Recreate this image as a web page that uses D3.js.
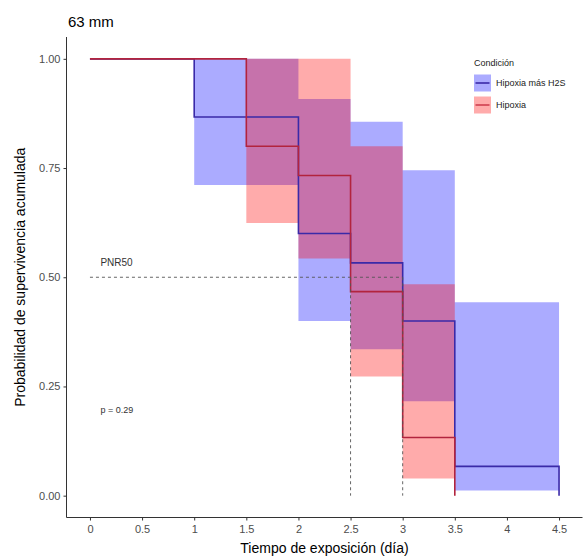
<!DOCTYPE html>
<html><head><meta charset="utf-8">
<script src="https://cdn.jsdelivr.net/npm/d3@7"></script>
<style>body{margin:0;background:#fff}svg{display:block}text{font-family:"Liberation Sans",Arial,sans-serif}</style>
</head><body><svg id="c" width="585" height="558"></svg>
<script>
// Survival step data
const h2sTime = [0, 1, 2, 2.5, 3, 3.5, 4.5];
const h2sSurv = [1, 0.867, 0.6, 0.533, 0.4, 0.067, 0];
const hipTime = [0, 1.5, 2, 2.5, 3, 3.5];
const hipSurv = [1, 0.8, 0.733, 0.467, 0.133, 0];
// Confidence intervals (start of each interval; last entry is end)
const h2sCiTime = [1, 2, 2.5, 3, 3.5, 4.5];
const h2sUpper = [1.0, 0.908, 0.856, 0.745, 0.443];
const h2sLower = [0.711, 0.40, 0.335, 0.216, 0.012];
const hipCiTime = [1.5, 2, 2.5, 3, 3.5];
const hipUpper = [1.0, 1.0, 0.80, 0.484];
const hipLower = [0.624, 0.543, 0.273, 0.039];
const xTicks = [0, 0.5, 1, 1.5, 2, 2.5, 3, 3.5, 4, 4.5];
const yTicks = [0, 0.25, 0.5, 0.75, 1];
const medians = [2.5, 3];
const seriesNames = ["Hipoxia más H2S", "Hipoxia"];

const svg = d3.select("#c");
const x = d3.scaleLinear().domain([-0.225, 4.725]).range([66.5, 582.5]);
const y = d3.scaleLinear().domain([-0.05, 1.05]).range([517.5, 37]);

function band(times, up, lo, color) {
  const pts = times.map((t, i) => ({t, u: up[Math.min(i, up.length - 1)], l: lo[Math.min(i, lo.length - 1)]}));
  const area = d3.area().curve(d3.curveStepAfter).x(d => x(d.t)).y0(d => y(d.l)).y1(d => y(d.u));
  svg.append("path").attr("d", area(pts)).attr("fill", color).attr("fill-opacity", 0.33);
}
band(h2sCiTime, h2sUpper, h2sLower, "#0000ff");
band(hipCiTime, hipUpper, hipLower, "#ff0000");

function step(times, surv, color) {
  const line = d3.line().curve(d3.curveStepAfter).x(d => x(d[0])).y(d => y(d[1]));
  svg.append("path").attr("d", line(times.map((t, i) => [t, surv[i]])))
    .attr("fill", "none").attr("stroke", color).attr("stroke-width", 1.6);
}
step(h2sTime, h2sSurv, "#3a2aa8");
step(hipTime, hipSurv, "#b2243e");

// median lines
const medG = svg.append("g").attr("stroke", "#555").attr("stroke-width", 0.9).attr("stroke-dasharray", "3,3");
medG.append("line").attr("x1", x(0)).attr("x2", x(d3.max(medians))).attr("y1", y(0.5)).attr("y2", y(0.5));
medians.forEach(m => medG.append("line").attr("x1", x(m)).attr("x2", x(m)).attr("y1", y(0.5)).attr("y2", y(0)));

// axes
const xAxis = svg.append("g").attr("transform", "translate(0,517.5)")
  .call(d3.axisBottom(x).tickValues(xTicks).tickSize(3).tickSizeOuter(0).tickFormat(d3.format("~g")));
const yAxis = svg.append("g").attr("transform", "translate(66.5,0)")
  .call(d3.axisLeft(y).tickValues(yTicks).tickSize(3).tickSizeOuter(0).tickFormat(d3.format(".2f")));
[xAxis, yAxis].forEach(a => {
  a.select(".domain").attr("stroke", "#333");
  a.selectAll(".tick line").attr("stroke", "#333");
  a.selectAll(".tick text").attr("fill", "#4d4d4d").style("font-size", "11px").style("font-family", "Liberation Sans, Arial, sans-serif");
});
xAxis.selectAll(".tick text").attr("dy", "0.9em");
// extend domain lines to full panel
xAxis.select(".domain").attr("d", `M${x.range()[0]},0H${x.range()[1]}`);
yAxis.select(".domain").attr("d", `M0,${y.range()[0]}V${y.range()[1]}`);

svg.append("text").attr("x", (x.range()[0] + x.range()[1]) / 2).attr("y", 553).attr("text-anchor", "middle")
  .style("font-size", "14px").text("Tiempo de exposición (día)");
svg.append("text").attr("transform", `translate(25,${(y.range()[0] + y.range()[1]) / 2}) rotate(-90)`).attr("text-anchor", "middle")
  .style("font-size", "14px").text("Probabilidad de supervivencia acumulada");
svg.append("text").attr("x", 68).attr("y", 27).style("font-size", "15px").text("63 mm");

svg.append("text").attr("x", x(0.1)).attr("y", y(0.534)).attr("dy", "0.35em").style("font-size", "10px").attr("fill", "#333").text("PNR50");
svg.append("text").attr("x", x(0.1)).attr("y", y(0.197)).attr("dy", "0.35em").style("font-size", "9px").attr("fill", "#333").text("p = 0.29");

// legend
const leg = svg.append("g").attr("transform", "translate(474,0)");
leg.append("text").attr("x", 0).attr("y", 66).style("font-size", "9px").attr("fill", "#222").text("Condición");
const legFill = ["#0000ff", "#ff0000"], legLine = ["#3a2aa8", "#d04050"];
seriesNames.forEach((n, i) => {
  const cy = 83 + i * 22;
  leg.append("rect").attr("x", 0).attr("y", cy - 8.5).attr("width", 17).attr("height", 17).attr("fill", legFill[i]).attr("fill-opacity", 0.33);
  leg.append("line").attr("x1", 1.5).attr("x2", 15.5).attr("y1", cy).attr("y2", cy).attr("stroke", legLine[i]).attr("stroke-width", 1.6);
  leg.append("text").attr("x", 22).attr("y", cy).attr("dy", "0.35em").style("font-size", "9px").attr("fill", "#222").text(n);
});
</script></body></html>
